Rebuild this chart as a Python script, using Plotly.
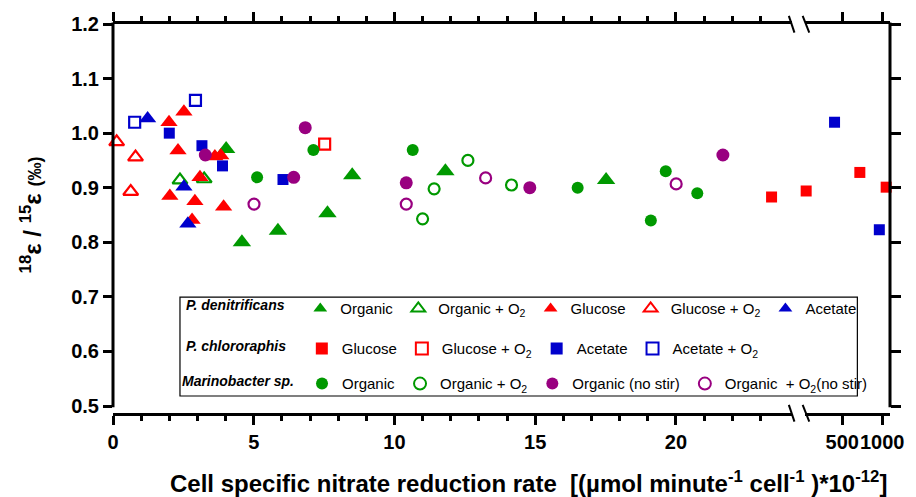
import plotly.graph_objects as go

GREEN = "#009900"
RED = "#FF0000"
BLUE = "#0000CC"
PURPLE = "#990080"

# ---------------- data ----------------
# P. denitrificans
pd_org_x = [4.02, 4.58, 5.86, 7.62, 8.50, 11.81, 17.52]
pd_org_y = [0.971, 0.800, 0.821, 0.853, 0.923, 0.930, 0.914]
pd_orgO2_x = [2.38, 3.24]
pd_orgO2_y = [0.914, 0.916]
pd_glu_x = [1.99, 2.52, 2.31, 2.02, 2.81, 2.91, 3.09, 3.62, 3.83, 3.93]
pd_glu_y = [1.020, 1.039, 0.968, 0.885, 0.841, 0.875, 0.919, 0.957, 0.959, 0.865]
pd_gluO2_x = [0.13, 0.80, 0.63]
pd_gluO2_y = [0.984, 0.956, 0.893]
pd_ace_x = [1.23, 2.52, 2.66]
pd_ace_y = [1.027, 0.902, 0.834]
# P. chlororaphis
pc_glu_x = [23.40]
pc_glu_y = [0.883]
pc_glu_hi_x = [267, 678, 1071]
pc_glu_hi_y = [0.894, 0.928, 0.901]
pc_gluO2_x = [7.52]
pc_gluO2_y = [0.980]
pc_ace_x = [2.00, 3.16, 3.89, 6.04]
pc_ace_y = [1.000, 0.977, 0.940, 0.915]
pc_ace_hi_x = [437, 951]
pc_ace_hi_y = [1.020, 0.823]
pc_aceO2_x = [0.77, 2.93]
pc_aceO2_y = [1.020, 1.060]
# Marinobacter sp.
mb_org_x = [5.12, 7.12, 10.65, 16.51, 19.11, 19.64, 20.76]
mb_org_y = [0.919, 0.969, 0.969, 0.900, 0.840, 0.930, 0.890]
mb_orgO2_x = [11.00, 11.41, 12.61, 14.16]
mb_orgO2_y = [0.843, 0.898, 0.950, 0.905]
mb_ns_x = [3.28, 6.42, 6.83, 10.42, 14.81, 21.67]
mb_ns_y = [0.960, 0.919, 1.010, 0.909, 0.900, 0.960]
mb_nsO2_x = [5.01, 10.42, 13.24, 20.01]
mb_nsO2_y = [0.870, 0.870, 0.918, 0.907]

x_major_ticks = [0, 5, 10, 15, 20]
x_hi_ticks = [500, 1000]
x_hi_labels = ["500", "1000"]
y_ticks = [0.5, 0.6, 0.7, 0.8, 0.9, 1.0, 1.1, 1.2]

# ---------------- figure ----------------
fig = go.Figure()


def add(x, y, name, symbol, color, legend, size, group, xaxis="x", yaxis="y", showlegend=True):
    marker = dict(symbol=symbol, color=color, size=size)
    if symbol.endswith("open"):
        marker["line"] = dict(width=2.2, color=color)
    else:
        marker["line"] = dict(width=0)
    fig.add_trace(go.Scatter(
        x=x, y=y, name=name, mode="markers", marker=marker, legend=legend,
        legendgroup=group, showlegend=showlegend, xaxis=xaxis, yaxis=yaxis,
        cliponaxis=False,
    ))


O2 = "O<sub>2</sub>"
add(pd_org_x, pd_org_y, "Organic", "triangle-up", GREEN, "legend", 16, "g1")
add(pd_orgO2_x, pd_orgO2_y, "Organic + " + O2, "triangle-up-open", GREEN, "legend", 13, "g2")
add(pd_glu_x, pd_glu_y, "Glucose", "triangle-up", RED, "legend", 15, "g3")
add(pd_gluO2_x, pd_gluO2_y, "Glucose + " + O2, "triangle-up-open", RED, "legend", 13, "g4")
add(pd_ace_x, pd_ace_y, "Acetate", "triangle-up", BLUE, "legend", 15, "g5")

add(pc_glu_x, pc_glu_y, "Glucose", "square", RED, "legend2", 11, "g6")
add(pc_gluO2_x, pc_gluO2_y, "Glucose + " + O2, "square-open", RED, "legend2", 11, "g7")
add(pc_ace_x, pc_ace_y, "Acetate", "square", BLUE, "legend2", 11, "g8")
add(pc_aceO2_x, pc_aceO2_y, "Acetate + " + O2, "square-open", BLUE, "legend2", 11, "g9")
add(pc_glu_hi_x, pc_glu_hi_y, "Glucose", "square", RED, "legend2", 11, "g6", "x2", "y2", False)
add(pc_ace_hi_x, pc_ace_hi_y, "Acetate", "square", BLUE, "legend2", 11, "g8", "x2", "y2", False)

add(mb_org_x, mb_org_y, "Organic", "circle", GREEN, "legend3", 12, "g10")
add(mb_orgO2_x, mb_orgO2_y, "Organic + " + O2, "circle-open", GREEN, "legend3", 11, "g11")
add(mb_ns_x, mb_ns_y, "Organic (no stir)", "circle", PURPLE, "legend3", 13, "g12")
add(mb_nsO2_x, mb_nsO2_y, "Organic  + " + O2 + "(no stir)", "circle-open", PURPLE, "legend3", 11, "g13")

FONT = "Liberation Sans, Arial, sans-serif"
tickfont = dict(family=FONT, size=20, color="black", weight="bold")
axis_common = dict(linewidth=3, linecolor="black", ticks="outside",
                   tickwidth=3, tickcolor="black", showgrid=False, zeroline=False,
                   tickfont=tickfont)

minor_vals = [v for v in range(1, 24) if v % 5 != 0]
minor_cfg = dict(tickvals=minor_vals, ticks="outside", ticklen=5, tickwidth=2.5,
                 tickcolor="black")
X1_DOM = [0, 0.8733]
X2_DOM = [0.891, 1]
X1_RANGE = [0, 24.11]
X2_RANGE = [2.42, 3.0587]
Y_RANGE = [0.4872, 1.2]      # x axis sits a few pixels below the 0.5 tick
Y_LINE_BOTTOM = 0.018        # paper y where the left/right axis lines end (at 0.5)

fig.update_layout(
    width=916, height=497,
    margin=dict(l=113, r=14, t=24, b=84),
    plot_bgcolor="white", paper_bgcolor="white",
    font=dict(family=FONT, color="black"),
    xaxis=dict(domain=X1_DOM, range=X1_RANGE, anchor="y", showline=True,
               mirror="ticks", ticklen=9, tickvals=x_major_ticks, minor=minor_cfg,
               **axis_common),
    xaxis2=dict(domain=X2_DOM, type="log", range=X2_RANGE, anchor="y2", showline=True,
                mirror="ticks", ticklen=9, tickvals=x_hi_ticks, tickangle=0,
                ticktext=x_hi_labels, **axis_common),
    yaxis=dict(domain=[0, 1], range=Y_RANGE, anchor="x", tickvals=y_ticks,
               tickformat=".1f", ticklen=9, showline=False, **axis_common),
    yaxis2=dict(domain=[0, 1], range=Y_RANGE, anchor="x2", side="right",
                tickvals=y_ticks, showticklabels=False, ticklen=10, showline=False,
                **axis_common),
    showlegend=True,
)

# left / right axis lines (stop at the 0.5 tick, leaving a small corner gap)
for xp in (0, 1):
    fig.add_shape(type="line", xref="paper", yref="paper", x0=xp, x1=xp,
                  y0=Y_LINE_BOTTOM - 0.003, y1=1.004, line=dict(color="black", width=3))

leg_common = dict(orientation="h", xanchor="left", yanchor="middle",
                  bgcolor="rgba(0,0,0,0)", borderwidth=0, itemwidth=30,
                  itemsizing="constant",
                  font=dict(family=FONT, size=15, color="black"))
title_font = dict(family=FONT, size=14, color="black", weight="bold", style="italic")
PAD = "\u00a0\u00a0"
fig.update_layout(
    legend=dict(x=0.0913, y=0.268, title=dict(text="P. denitrificans" + PAD, side="left", font=title_font), **leg_common),
    legend2=dict(x=0.0913, y=0.165, title=dict(text="P. chlororaphis" + PAD, side="left", font=title_font), **leg_common),
    legend3=dict(x=0.0862, y=0.075, title=dict(text="Marinobacter sp.", side="left", font=title_font), **leg_common),
)

# legend frame
fig.add_shape(type="rect", xref="paper", yref="paper", x0=0.0862, x1=0.958,
              y0=0.0437, y1=0.298, line=dict(color="black", width=1.2), layer="above")

# axis-break marks
for (xa, xb) in [(0.8698, 0.8770), (0.8876, 0.8961)]:
    fig.add_shape(type="line", xref="paper", yref="paper", x0=xa, x1=xb,
                  y0=0.0210, y1=-0.0220, line=dict(color="black", width=2))
    fig.add_shape(type="line", xref="paper", yref="paper", x0=xa, x1=xb,
                  y0=1.0210, y1=0.9780, line=dict(color="black", width=2))

# axis titles
fig.add_annotation(
    text="<b>Cell specific nitrate reduction rate  [(µmol minute<sup>-1</sup> cell<sup>-1</sup> )*10<sup>-12</sup>]</b>",
    xref="paper", yref="paper", x=0.535, y=-0.178, xanchor="center", yanchor="middle",
    showarrow=False, font=dict(family=FONT, size=24, color="black"))
fig.add_annotation(
    text="<b><sup>18</sup>ε / <sup>15</sup>ε <span style='font-size:18px'>(‰)</span></b>",
    xref="paper", yref="paper", x=-0.105, y=0.509, xanchor="center", yanchor="middle",
    textangle=-90, showarrow=False, font=dict(family=FONT, size=24, color="black"))

fig.write_html("out.html")
